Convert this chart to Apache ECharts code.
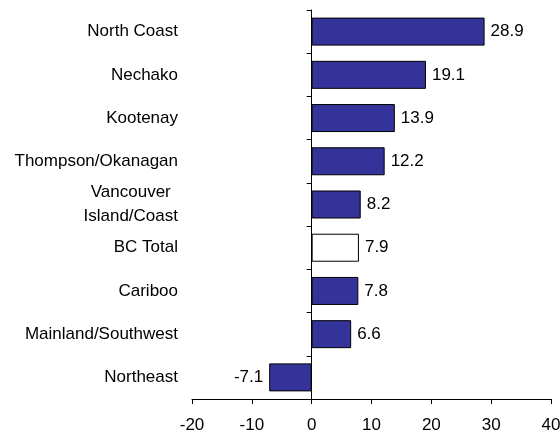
<!DOCTYPE html>
<html>
<head>
<meta charset="utf-8">
<script src="https://cdn.jsdelivr.net/npm/echarts@6/dist/echarts.min.js"></script>
<style>
  html, body { margin: 0; padding: 0; background: #fff; }
  #chart { width: 560px; height: 432px; }
</style>
</head>
<body>
<div id="chart"></div>
<script>
// 地区数据（从上到下）
const regions = [
  "North Coast",
  "Nechako",
  "Kootenay",
  "Thompson/Okanagan",
  "Vancouver\nIsland/Coast",
  "BC Total",
  "Cariboo",
  "Mainland/Southwest",
  "Northeast"
];
const values = [28.9, 19.1, 13.9, 12.2, 8.2, 7.9, 7.8, 6.6, -7.1];
const totalName = "BC Total";

const barColor = "#333399";
const font = "Arial, 'Liberation Sans', sans-serif";

const chart = echarts.init(document.getElementById("chart"));

const seriesData = values.map((v, i) => {
  const item = { value: v };
  if (regions[i] === totalName) {
    item.itemStyle = { color: "#ffffff" };
  }
  if (v < 0) {
    item.label = { position: "left" };
  }
  return item;
});

const option = {
  animation: false,
  backgroundColor: "#ffffff",
  grid: {
    left: 192,
    right: 9,
    top: 10,
    bottom: 33,
    outerBoundsMode: "none"
  },
  xAxis: {
    type: "value",
    min: -20,
    max: 40,
    interval: 10,
    splitLine: { show: false },
    axisLine: { show: true, lineStyle: { color: "#000", width: 1 } },
    axisTick: { show: true, length: 5, lineStyle: { color: "#000" } },
    axisLabel: { color: "#000", fontSize: 17, fontFamily: font, margin: 18 }
  },
  yAxis: {
    type: "category",
    data: regions,
    inverse: true,
    axisLine: { show: true, onZero: true, lineStyle: { color: "#000", width: 1 } },
    axisTick: { show: true, length: 5, lineStyle: { color: "#000" } },
    axisLabel: {
      color: "#000",
      fontSize: 17,
      fontFamily: font,
      margin: 14,
      formatter: function (v) {
        // 两行标签居中对齐
        if (v.indexOf("\n") > -1) {
          return v.split("\n").map(s => "{c|" + s + "}").join("\n");
        }
        return v;
      },
      rich: {
        c: { align: "center", fontSize: 17, fontFamily: font, color: "#000", lineHeight: 24 }
      }
    }
  },
  series: [
    {
      type: "bar",
      data: seriesData,
      barWidth: 28,
      itemStyle: { color: barColor, borderColor: "#000", borderWidth: 1 },
      label: {
        show: true,
        position: "right",
        distance: 6,
        color: "#000",
        fontSize: 17,
        fontFamily: font,
        formatter: p => p.value.toFixed(1)
      }
    }
  ]
};

chart.setOption(option);
</script>
</body>
</html>
